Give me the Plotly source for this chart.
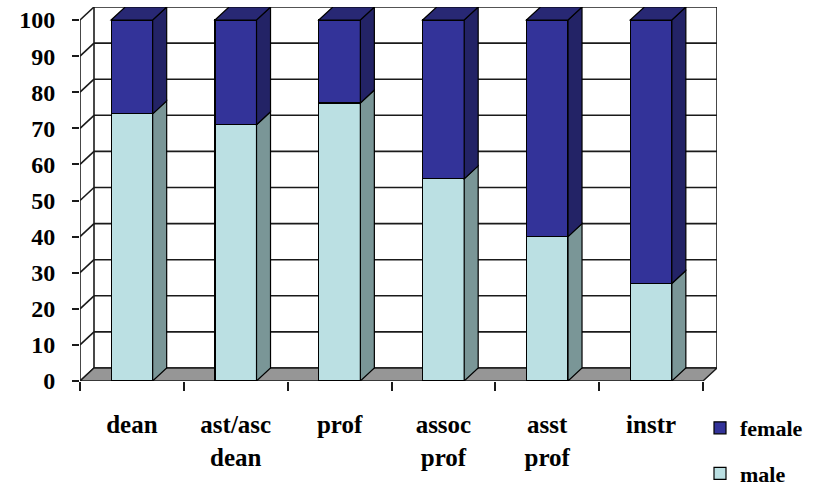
import plotly.graph_objects as go

# ---- data ----
categories = ["dean", "ast/asc<br>dean", "prof", "assoc<br>prof", "asst<br>prof", "instr"]
male = [74, 71, 77, 56, 40, 27]
female = [100 - m for m in male]
y_ticks = list(range(0, 101, 10))

# ---- geometry (pixels) ----
W, H = 820, 488
L, R, T, B = 80, 717, 7, 381
DPX, DPY = 14, 13          # depth offset in pixels
n = len(categories)
ux = (R - L - DPX) / n     # px per category
uy = (B - T - DPY) / 100.0 # px per percent
DX = DPX / ux
DY = DPY / uy
x0, x1 = -0.5, n - 0.5
BW = 0.4

FAM = "Liberation Serif, Tinos, DejaVu Serif, serif"
FONT = dict(family=FAM, size=24, color="black", weight="bold")
XFONT = dict(family=FAM, size=25, color="black", weight="bold")
LINE = "#1a1a1a"

fig = go.Figure()
fig.add_trace(go.Bar(x=list(range(n)), y=male, name="male", width=BW,
                     marker=dict(color="#BBE0E3", line=dict(color="black", width=1.2)),
                     legendgroup="m", legendrank=2))
fig.add_trace(go.Bar(x=list(range(n)), y=female, name="female", width=BW,
                     marker=dict(color="#333399", line=dict(color="black", width=1.2)),
                     legendgroup="f", legendrank=1))

shapes = []
def poly(pts):
    return "M " + " L ".join(f"{px},{py}" for px, py in pts) + " Z"

# back wall
shapes.append(dict(type="path", layer="below",
                   path=poly([(x0 + DX, DY), (x1 + DX, DY), (x1 + DX, 100 + DY), (x0 + DX, 100 + DY)]),
                   fillcolor="white", line=dict(width=0)))
for v in y_ticks:
    shapes.append(dict(type="line", layer="below", x0=x0 + DX, x1=x1 + DX, y0=v + DY, y1=v + DY,
                       line=dict(color=LINE, width=1.6)))
    shapes.append(dict(type="line", layer="below", x0=x0, x1=x0 + DX, y0=v, y1=v + DY,
                       line=dict(color=LINE, width=1.6)))
for xv in (x0 + DX, x1 + DX):
    shapes.append(dict(type="line", layer="below", x0=xv, x1=xv, y0=DY, y1=100 + DY,
                       line=dict(color=LINE, width=1.6)))
# front value axis line
shapes.append(dict(type="line", layer="below", x0=x0, x1=x0, y0=0, y1=100,
                   line=dict(color=LINE, width=1.6)))
# floor
shapes.append(dict(type="path", layer="below",
                   path=poly([(x0, 0), (x1, 0), (x1 + DX, DY), (x0 + DX, DY)]),
                   fillcolor="#969696", line=dict(color=LINE, width=1.4)))

# bar sides and tops
for i in range(n):
    xr = i + BW / 2
    xl = i - BW / 2
    segs = [(0, male[i], "#7A9697"), (male[i], 100, "#232366")]
    for y0, y1, col in segs:
        shapes.append(dict(type="path",
                           path=poly([(xr, y0), (xr + DX, y0 + DY), (xr + DX, y1 + DY), (xr, y1)]),
                           fillcolor=col, line=dict(color="black", width=1.2)))
    top = male[i] + female[i]
    shapes.append(dict(type="path",
                       path=poly([(xl, top), (xr, top), (xr + DX, top + DY), (xl + DX, top + DY)]),
                       fillcolor="#282874", line=dict(color="black", width=1.2)))

fig.update_layout(
    width=W, height=H,
    margin=dict(l=L, r=W - R, t=T, b=H - B, pad=0, autoexpand=False),
    barmode="stack",
    paper_bgcolor="white", plot_bgcolor="white",
    shapes=shapes,
    showlegend=True,
    legend=dict(x=(700 - L) / (R - L), xanchor="left",
                y=(B - 407) / (B - T), yanchor="top",
                traceorder="grouped", tracegroupgap=14,
                font=dict(family=FAM, size=22, color="black", weight="bold"),
                bgcolor="rgba(0,0,0,0)"),
    xaxis=dict(range=[x0, x1 + DX], tickvals=list(range(n)), ticktext=categories,
               ticks="", showgrid=False, zeroline=False, showline=False, automargin=False,
               tickfont=XFONT, ticklabelstandoff=26,
               minor=dict(tickmode="array", tickvals=[k - 0.5 for k in range(n + 1)],
                          ticks="outside", ticklen=9, tickwidth=1.5, tickcolor=LINE,
                          showgrid=False),
               fixedrange=True),
    yaxis=dict(range=[0, 100 + DY], tickvals=y_ticks, ticks="outside", ticklen=7,
               tickwidth=1.5, tickcolor=LINE, showgrid=False, zeroline=False, automargin=False,
               showline=False, tickfont=FONT, ticklabelstandoff=12, fixedrange=True),
)

fig.write_html("out.html", config={"displayModeBar": False},
               post_script="document.body.style.margin='0';")
